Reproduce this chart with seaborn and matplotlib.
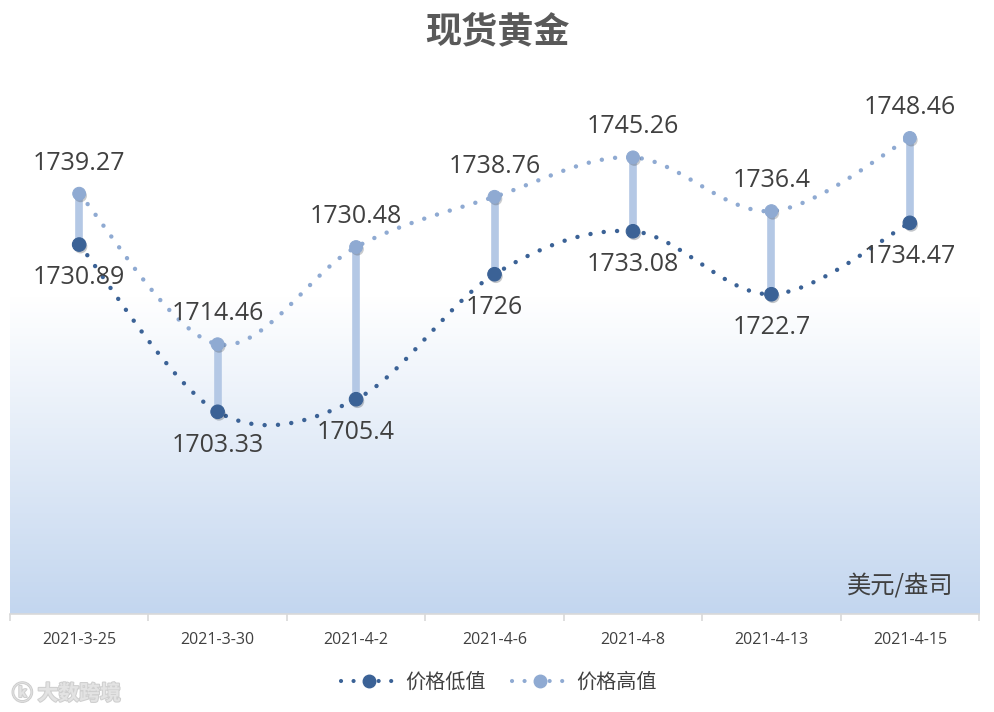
import numpy as np
import pandas as pd
import matplotlib.pyplot as plt
import seaborn as sns
from matplotlib.colors import LinearSegmentedColormap
from matplotlib.lines import Line2D
import matplotlib.patheffects as pe

# data
dates = ['2021-3-25', '2021-3-30', '2021-4-2', '2021-4-6', '2021-4-8', '2021-4-13', '2021-4-15']
low_vals = [1730.89, 1703.33, 1705.4, 1726, 1733.08, 1722.7, 1734.47]
high_vals = [1739.27, 1714.46, 1730.48, 1738.76, 1745.26, 1736.4, 1748.46]
low_labels = ['1730.89', '1703.33', '1705.4', '1726', '1733.08', '1722.7', '1734.47']
high_labels = ['1739.27', '1714.46', '1730.48', '1738.76', '1745.26', '1736.4', '1748.46']

sns.set_theme(style='white')
plt.rcParams['font.family'] = ['Noto Sans CJK SC', 'DejaVu Sans']
plt.rcParams['axes.unicode_minus'] = False

LOW_C = '#3b6296'
HIGH_C = '#8faad2'
BAR_C = '#b4c8e5'
TXT = '#404040'
NUM_FONT = ['Open Sans', 'DejaVu Sans']


def smooth(y, n=40):
    # Excel-like smoothed line (bezier through the points)
    y = np.asarray(y, dtype=float)
    x = np.arange(len(y), dtype=float)
    pts = np.column_stack([x, y])
    ext = np.vstack([pts[0], pts, pts[-1]])
    out = []
    t = np.linspace(0, 1, n)[:, None]
    for i in range(len(pts) - 1):
        p0, p1, p2, p3 = ext[i], ext[i + 1], ext[i + 2], ext[i + 3]
        b1 = p1 + (p2 - p0) / 6
        b2 = p2 - (p3 - p1) / 6
        seg = ((1 - t) ** 3) * p1 + 3 * ((1 - t) ** 2) * t * b1 + 3 * (1 - t) * t ** 2 * b2 + t ** 3 * p2
        out.append(seg if i == 0 else seg[1:])
    out = np.vstack(out)
    return out[:, 0], out[:, 1]


fig = plt.figure(figsize=(9.94, 7.12), dpi=100)
ax = fig.add_axes([0.010, 0.1376, 0.975, 0.767])
ax.set_xlim(-0.5, 6.5)
ax.set_ylim(1670, 1760)

# gradient background
cmap = LinearSegmentedColormap.from_list('bg', [(0, '#c3d6ef'), (0.58, '#ffffff'), (1, '#ffffff')])
grad = np.linspace(0, 1, 256)[:, None]
ax.imshow(grad, extent=[-0.5, 6.5, 1670, 1760], origin='lower', aspect='auto', cmap=cmap, zorder=0)

# high-low bars
for i in range(len(dates)):
    ax.plot([i, i], [low_vals[i], high_vals[i]], color=BAR_C, lw=5.5, solid_capstyle='butt', zorder=2)

# smoothed dotted lines
dots = (0, (0.01, 3.0))
xs, ys = smooth(high_vals)
ax.plot(xs, ys, color=HIGH_C, lw=3.2, linestyle=dots, dash_capstyle='round', zorder=3)
xs, ys = smooth(low_vals)
ax.plot(xs, ys, color=LOW_C, lw=3.2, linestyle=dots, dash_capstyle='round', zorder=3)

df = pd.DataFrame({'x': np.arange(len(dates)), 'low': low_vals, 'high': high_vals})
sns.scatterplot(data=df, x='x', y='high', color=HIGH_C, s=85, edgecolor=HIGH_C, ax=ax, zorder=4)
sns.scatterplot(data=df, x='x', y='low', color=LOW_C, s=95, edgecolor=LOW_C, ax=ax, zorder=4)
shadow = [pe.SimplePatchShadow(offset=(1, -1.5), alpha=0.25), pe.Normal()]
for coll in ax.collections:
    coll.set_path_effects(shadow)

# value labels
for i in range(len(dates)):
    ax.annotate(high_labels[i], (i, high_vals[i]), xytext=(0, 22), textcoords='offset points',
                ha='center', va='center', fontsize=18, color=TXT, family=NUM_FONT, zorder=5)
    ax.annotate(low_labels[i], (i, low_vals[i]), xytext=(0, -24), textcoords='offset points',
                ha='center', va='center', fontsize=18, color=TXT, family=NUM_FONT, zorder=5)

# axes styling
for s in ['top', 'right', 'left']:
    ax.spines[s].set_visible(False)
ax.spines['bottom'].set_color('#d9d9d9')
ax.spines['bottom'].set_linewidth(1.2)
ax.set_yticks([])
ax.set_xticks(np.arange(len(dates)))
ax.set_xticklabels(dates, fontsize=11.5, color=TXT, family=NUM_FONT)
ax.tick_params(axis='x', length=0, pad=13)
ax.set_xticks(np.arange(-0.5, 7, 1), minor=True)
ax.tick_params(axis='x', which='minor', length=5, width=1.2, color='#d9d9d9', direction='out', bottom=True)
ax.set_xlabel('')
ax.set_ylabel('')

ax.text(0.974, 0.05, '美元/盎司', transform=ax.transAxes, ha='right', va='center', fontsize=17.5, color=TXT)

fig.text(0.5, 0.955, '现货黄金', ha='center', va='center', fontsize=26, fontweight='bold', color='#595959')

# legend
h1 = Line2D([0], [0], color=LOW_C, lw=3.0, linestyle=dots, dash_capstyle='round',
            marker='o', markersize=9, markerfacecolor=LOW_C, markeredgecolor=LOW_C)
h2 = Line2D([0], [0], color=HIGH_C, lw=3.0, linestyle=dots, dash_capstyle='round',
            marker='o', markersize=9, markerfacecolor=HIGH_C, markeredgecolor=HIGH_C)
fig.legend([h1, h2], ['价格低值', '价格高值'], loc='center', bbox_to_anchor=(0.502, 0.041), ncol=2,
           frameon=False, fontsize=14.5, labelcolor=TXT, handlelength=2.8, columnspacing=1.3, handletextpad=0.4)

# watermark
fig.text(0.012, 0.026, 'ⓚ 大数跨境', ha='left', va='center', fontsize=15, color='#e3e3e3',
         fontweight='bold', path_effects=[pe.withStroke(linewidth=1.5, foreground='#cfcfcf')])

fig.savefig('out.png', dpi=100)
